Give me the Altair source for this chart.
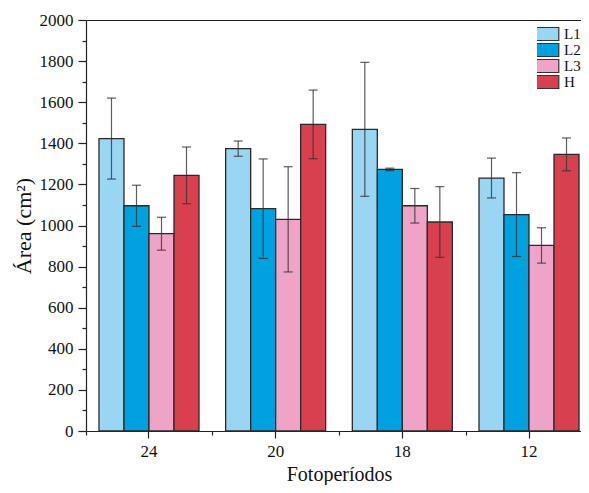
import altair as alt
import pandas as pd

periods = ["24", "20", "18", "12"]
series = ["L1", "L2", "L3", "H"]
means = {
    "L1": [1423, 1374, 1468, 1231],
    "L2": [1096, 1082, 1273, 1053],
    "L3": [960, 1030, 1096, 903],
    "H": [1244, 1492, 1017, 1346],
}
errs = {
    "L1": [197, 37, 326, 97],
    "L2": [100, 242, 6, 204],
    "L3": [80, 256, 84, 86],
    "H": [138, 167, 172, 80],
}
colors = ["#9AD6F3", "#00A1DF", "#EFA4C7", "#D8404F"]
y_major = list(range(0, 2001, 200))
y_minor = list(range(100, 2000, 200))

rows = []
for s in series:
    for i, p in enumerate(periods):
        m, e = means[s][i], errs[s][i]
        rows.append({"period": p, "series": s, "mean": m, "lo": m - e, "hi": m + e})
df = pd.DataFrame(rows)

FONT = "Liberation Serif"
xscale = alt.Scale(paddingInner=0.2105, paddingOuter=0.1026)
yscale = alt.Scale(domain=[0, 2000], nice=False)
xo = alt.XOffset("series:N", sort=series)

bars = alt.Chart(df).mark_bar(stroke="#2a2a2a", strokeWidth=1.3).encode(
    x=alt.X("period:N", sort=periods, scale=xscale,
            axis=alt.Axis(orient="bottom", title="Fotoperíodos", tickSize=7,
                          labelPadding=5, titlePadding=5, labelAngle=0)),
    xOffset=xo,
    y=alt.Y("mean:Q", scale=yscale,
            axis=alt.Axis(orient="left", values=y_major, format="d", tickSize=8,
                          labelPadding=5, title="Área (cm²)", titlePadding=4,
                          titleFontSize=22)),
    color=alt.Color("series:N", sort=series,
                    scale=alt.Scale(domain=series, range=colors),
                    legend=alt.Legend(orient="none", legendX=451, legendY=6, title=None,
                                      symbolType="M-2.2,-1.0H2.2V1.0H-2.2Z", symbolSize=169,
                                      symbolStrokeColor="#333", symbolStrokeWidth=1.2,
                                      symbolOpacity=1, labelFont=FONT, labelFontSize=15,
                                      labelOffset=12, rowPadding=0, clipHeight=16,
                                      padding=0)),
)

rules = alt.Chart(df).mark_rule(color="#333", strokeWidth=1.2, opacity=0.8).encode(
    x=alt.X("period:N", sort=periods, scale=xscale,
            axis=alt.Axis(orient="bottom", tickOffset=-63.3, tickSize=4, labels=False,
                          domain=False, title=None)),
    xOffset=xo,
    y=alt.Y("lo:Q", scale=yscale,
            axis=alt.Axis(orient="left", values=y_minor, tickSize=4, labels=False,
                          domain=False, title=None)),
    y2="hi:Q",
)

caps = alt.Chart(df).transform_fold(["lo", "hi"], as_=["end", "yv"]).mark_tick(
    color="#333", thickness=1.2, size=9, opacity=0.8
).encode(
    x=alt.X("period:N", sort=periods, scale=xscale,
            axis=alt.Axis(orient="top", ticks=False, labels=False, domain=True, title=None)),
    xOffset=xo,
    y=alt.Y("yv:Q", scale=yscale, axis=None),
)

chart = alt.layer(bars, rules, caps).resolve_axis(
    x="independent", y="independent"
).properties(
    width=506, height=411,
    autosize=alt.AutoSizeParams(type="none"),
    padding={"left": 78, "top": 12, "right": -11, "bottom": 54},
).configure_view(stroke=None).configure_axis(
    labelFont=FONT, titleFont=FONT, labelFontSize=17, titleFontSize=20,
    labelColor="#111", titleColor="#111", titleFontWeight="normal",
    domainColor="#222", tickColor="#222", domainWidth=1.2, tickWidth=1.2, grid=False,
).configure_legend(labelColor="#111")

chart.save("out.html", embed_options={"renderer": "svg", "actions": False})
